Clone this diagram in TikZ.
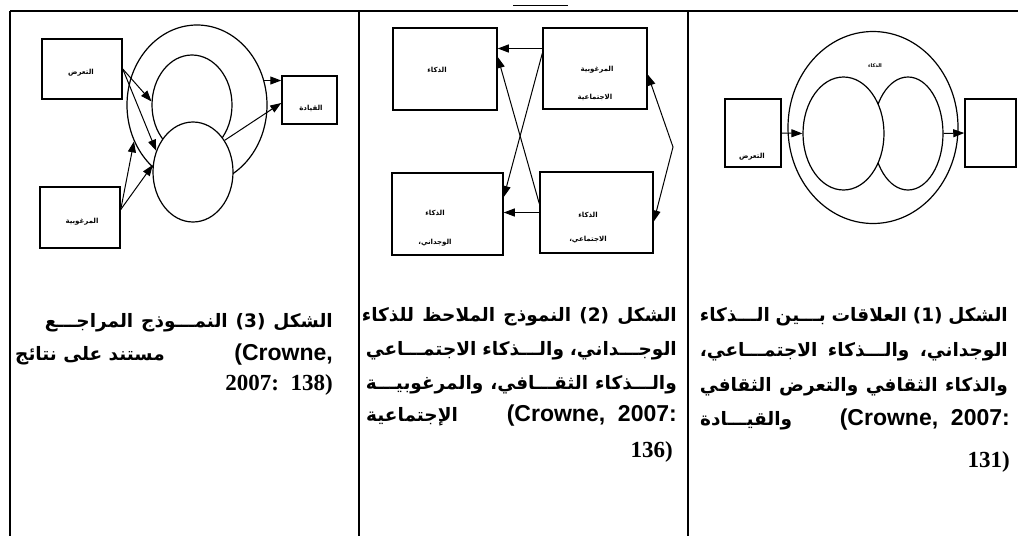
\documentclass[tikz,border=0pt]{standalone}
\usepackage{fontspec}
\setmainfont{Liberation Serif}
\newfontfamily\arabicfont[Script=Arabic]{DejaVu Sans}
\newfontfamily\latinsans{Liberation Sans}
\TeXXeTstate=1
\usetikzlibrary{arrows.meta,shapes.geometric,positioning,calc}

\tikzset{
  figbox/.style={draw, line width=1.5pt, inner sep=0pt},
  ring/.style={draw, ellipse, line width=1.2pt, inner sep=0pt},
  blob/.style={ring, fill=white},
  rel/.style={-{Triangle[length=11pt,width=8pt]}, line width=1pt},
  tinylbl/.style={font=\arabicfont\bfseries\fontsize{7}{8}\selectfont, inner sep=0pt},
  capline/.style={font=\arabicfont\bfseries\fontsize{18.5}{18}\selectfont, inner sep=0pt, anchor=base east},
  latinchunk/.style={font=\latinsans\bfseries\fontsize{23}{23}\selectfont, inner sep=0pt, anchor=base east},
  pagenum/.style={font=\bfseries\fontsize{23}{23}\selectfont, inner sep=0pt, anchor=base east},
  tablerule/.style={line width=1.6pt}
}

\begin{document}
\begin{tikzpicture}[x=1pt, y=-1pt]
  \useasboundingbox (0,0) rectangle (1018,536);
  % table rules
  \draw[tablerule] (10,11) -- (1018,11);
  \foreach \cx in {10,359,688}{\draw[tablerule] (\cx,11) -- (\cx,536);}
  \draw[line width=1.2pt] (513,5.5) -- (568,5.5);

  % figure 1 (right column)
  \node[ring, minimum width=170pt, minimum height=192pt] (halo1) at (873,127.5) {};
  \node[blob, minimum width=70pt, minimum height=113pt] (si1) at (908,133.5) {};
  \node[blob, minimum width=81pt, minimum height=113pt] (ei1) at (843.5,133.5) {};
  \node[figbox, minimum width=56pt, minimum height=68pt] (expo1) at (753,133) {};
  \node[figbox, minimum width=51pt, minimum height=68pt] (lead1) at (990.5,133) {};
  \node[tinylbl, font=\arabicfont\bfseries\fontsize{5}{6}\selectfont] (cq1) at (875,66) {\beginR الذكاء\endR};
  \node[tinylbl] (expo1txt) at (752,157) {\beginR التعرض\endR};
  \draw[rel] (expo1.east) -- (ei1.west);
  \draw[rel] (si1.east) -- (lead1.west);

  % figure 2 (middle column)
  \node[figbox, minimum width=104pt, minimum height=82pt] (intel2) at (445,69) {};
  \node[figbox, minimum width=104pt, minimum height=81pt] (desir2) at (595,68.5) {};
  \node[figbox, minimum width=111pt, minimum height=82pt] (emot2) at (447.5,214) {};
  \node[figbox, minimum width=113pt, minimum height=81pt] (social2) at (596.5,212.5) {};
  \node[tinylbl] (intel2txt) at (437,70) {\beginR الذكاء\endR};
  \node[tinylbl] (desir2txta) at (597,70) {\beginR المرغوبية\endR};
  \node[tinylbl] (desir2txtb) at (595,97) {\beginR الاجتماعية\endR};
  \node[tinylbl] (emot2txta) at (435,213) {\beginR الذكاء\endR};
  \node[tinylbl] (emot2txtb) at (435,243) {\beginR الوجداني،\endR};
  \node[tinylbl] (social2txta) at (588,215) {\beginR الذكاء\endR};
  \node[tinylbl] (social2txtb) at (588,240) {\beginR الاجتماعي،\endR};
  \coordinate (kink2) at (673,147);
  \draw[rel] ([yshift=20pt]desir2.west) -- ([yshift=20pt]desir2.west -| intel2.east);
  \draw[rel] (social2.west) -- (social2.west -| emot2.east);
  \draw[rel] ([yshift=15pt]desir2.west) -- ([yshift=17pt]emot2.east);
  \draw[rel] ([yshift=9pt]social2.west) -- ([yshift=12pt]intel2.east);
  \draw[rel, {Triangle[length=11pt,width=8pt]}-{Triangle[length=11pt,width=8pt]}]
    ([yshift=-6pt]desir2.east) -- (kink2) -- ([yshift=-9pt]social2.east);

  % figure 3 (left column)
  \node[ring, minimum width=140pt, minimum height=160pt] (halo3) at (197,105) {};
  \node[ring, minimum width=80pt, minimum height=100pt] (ei3) at (192,105) {};
  \node[blob, minimum width=80pt, minimum height=100pt] (si3) at (193,172) {};
  \node[figbox, minimum width=80pt, minimum height=60pt] (expo3) at (82,69) {};
  \node[figbox, minimum width=80pt, minimum height=61pt] (desir3) at (80,217.5) {};
  \node[figbox, minimum width=55pt, minimum height=48pt] (lead3) at (309.5,100) {};
  \node[tinylbl] (expo3txt) at (81,73) {\beginR التعرض\endR};
  \node[tinylbl] (desir3txt) at (82,222) {\beginR المرغوبية\endR};
  \node[tinylbl] (lead3txt) at (311,108) {\beginR القيادة\endR};
  \draw[rel] (expo3.east) -- (ei3.175);
  \draw[rel] (expo3.east) -- (si3.150);
  \draw[rel] ([yshift=8pt]desir3.east) -- (halo3.210);
  \draw[rel] ([yshift=8pt]desir3.east) -- (si3.170);
  \draw[rel] (si3.45) -- ([yshift=-3pt]lead3.west);
  \draw[rel] (halo3.20) -- (halo3.20 -| lead3.west);

  % captions, figure 1
  \node[capline] (cap1a) at (1008,321) {\hbox to 308pt{\beginR الشكل (1) العلاقات بـــين الـــذكاء\endR}};
  \node[capline] (cap1b) at (1008,356) {\hbox to 308pt{\beginR الوجداني، والـــذكاء الاجتمـــاعي،\endR}};
  \node[capline] (cap1c) at (1008,391) {\hbox to 308pt{\beginR والذكاء الثقافي والتعرض الثقافي\endR}};
  \node[capline, anchor=base west] (cap1d) at (700,425) {\beginR والقيـــادة\endR};
  \node[latinchunk] (cap1dl) at (1010,425) {(Crowne,\ \ 2007:};
  \node[pagenum] (cap1e) at (1010,467) {131)};

  % captions, figure 2
  \node[capline] (cap2a) at (677,321) {\hbox to 315pt{\beginR الشكل (2) النموذج الملاحظ للذكاء\endR}};
  \node[capline] (cap2b) at (677,355) {\hbox to 311pt{\beginR الوجـــداني، والـــذكاء الاجتمـــاعي\endR}};
  \node[capline] (cap2c) at (677,389) {\hbox to 311pt{\beginR والـــذكاء الثقـــافي، والمرغوبيـــة\endR}};
  \node[capline, anchor=base west] (cap2d) at (366,421) {\beginR الإجتماعية\endR};
  \node[latinchunk] (cap2dl) at (677,421) {(Crowne,\ \ 2007:};
  \node[pagenum] (cap2e) at (673,457) {136)};

  % captions, figure 3
  \node[capline] (cap3a) at (333,327) {\hbox to 288pt{\beginR الشكل (3) النمـــوذج المراجـــع\endR}};
  \node[capline, anchor=base west] (cap3b) at (15,360) {\beginR مستند على نتائج\endR};
  \node[latinchunk] (cap3bl) at (333,360) {(Crowne,};
  \node[pagenum] (cap3c) at (333,390) {2007:\ \ 138)};
\end{tikzpicture}
\end{document}
